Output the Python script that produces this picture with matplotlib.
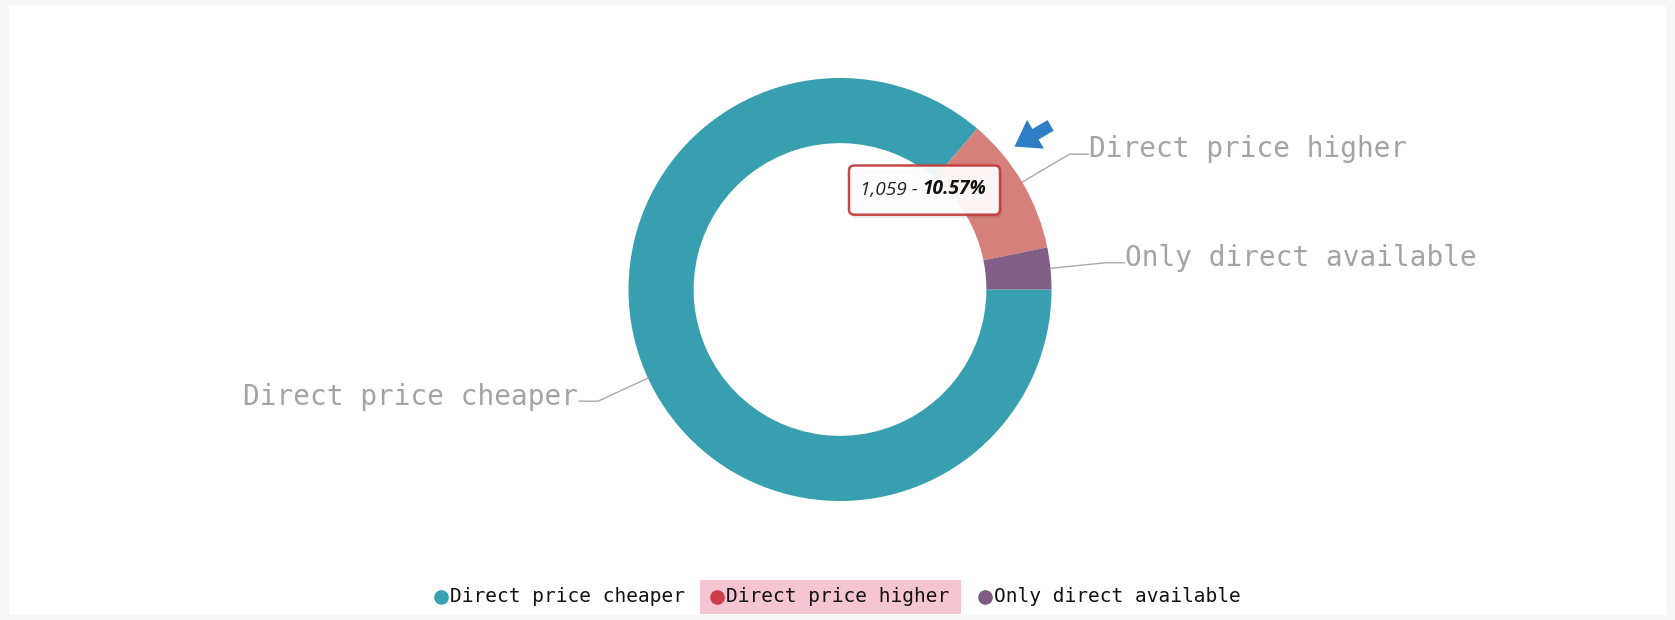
import numpy as np
import matplotlib.pyplot as plt
from matplotlib.patches import Rectangle, FancyBboxPatch

# data
categories = ["Direct price cheaper", "Direct price higher", "Only direct available"]
counts = [8640, 1059, 320]
slice_colors = ["#389FB0", "#D5807A", "#815E85"]
legend_colors = ["#36A2B2", "#CC3E4A", "#7F5A83"]
tooltip_count = "1,059"
tooltip_pct = "10.57%"

W, H = 1675, 620
R = 211.5          # outer radius in pixels
cx, cy = 840, 289.5

fig = plt.figure(figsize=(W / 100, H / 100), dpi=100)
fig.patch.set_facecolor("#F7F7F7")
fig.patches.append(Rectangle((9 / W, 5 / H), 1657 / W, 609 / H, transform=fig.transFigure,
                             facecolor="white", edgecolor="none", zorder=0))

ax = fig.add_axes([0, 0, 1, 1])
ax.set_facecolor("none")
ax.set_zorder(1.5)

wedges, _ = ax.pie(counts, colors=slice_colors, startangle=0, counterclock=False,
                   radius=1, wedgeprops=dict(width=0.308, edgecolor="none"))
ax.set_aspect("auto")
ax.set_xlim(-cx / R, (W - cx) / R)
ax.set_ylim((cy - H) / R, cy / R)
ax.axis("off")

mono = "DejaVu Sans Mono"

# outside labels with elbow leader lines
for w, name in zip(wedges, categories):
    a = np.deg2rad((w.theta1 + w.theta2) / 2)
    p0 = np.array([np.cos(a), np.sin(a)])
    p1 = p0 * 1.26
    side = 1 if np.cos(a) > 0 else -1
    p2 = p1 + np.array([side * 0.09, 0])
    ax.plot([p0[0], p1[0], p2[0]], [p0[1], p1[1], p2[1]], color="#AAAAAA", lw=1, zorder=3)
    ax.text(p2[0] + side * 0.004, p2[1] + 0.022, name, ha="left" if side > 0 else "right",
            va="center", fontsize=20, family=mono, color="#A3A3A3")


def px(x, y):
    return (x - cx) / R, (cy - y) / R


# tooltip
shadow = FancyBboxPatch(px(851, 218), 151 / R, 49 / R,
                        boxstyle="round,pad=0,rounding_size=0.025",
                        facecolor="#000000", alpha=0.08, edgecolor="none", zorder=5)
ax.add_patch(shadow)
box = FancyBboxPatch(px(849, 214.7), 151 / R, 49.2 / R,
                     boxstyle="round,pad=0,rounding_size=0.025",
                     facecolor="white", alpha=0.93, edgecolor="#C23B3B", lw=1.8, zorder=6)
ax.add_patch(box)
tx, ty = px(860, 190)
t1 = ax.text(tx, ty, tooltip_count + " - ", ha="left", va="center", fontsize=13.8,
             family="Open Sans", style="italic", color="#222222", zorder=7)
ax.annotate(tooltip_pct, xy=(1, 0), xycoords=t1, ha="left", va="bottom", fontsize=13.8,
            family="Open Sans", style="italic", weight="bold", color="#111111", zorder=7)

# blue pointer arrow
ax.annotate("", xy=px(1012, 148), xytext=px(1053, 124),
            arrowprops=dict(arrowstyle="simple,head_length=1.1,head_width=1.5,tail_width=0.55",
                            color="#2F7EC5", lw=0, mutation_scale=16), zorder=8)

# legend
fig.patches.append(Rectangle((700 / W, 1 - 614 / H), 261 / W, 34 / H, transform=fig.transFigure,
                             facecolor="#F5C5D3", edgecolor="none", zorder=1))
legend_x = [441, 717, 985]
ly = 1 - 597 / H
for x, name, c in zip(legend_x, categories, legend_colors):
    fig.add_artist(plt.Line2D([x / W], [ly], marker="o", markersize=9.5, color=c,
                              linestyle="none", transform=fig.transFigure, zorder=3))
    fig.text((x + 9) / W, ly, name, ha="left", va="center", fontsize=14, family=mono,
             color="#111111", zorder=3)

fig.savefig("out.png", dpi=100)
